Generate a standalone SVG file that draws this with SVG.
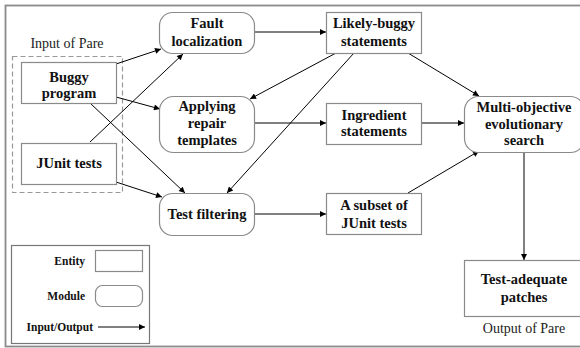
<svg xmlns="http://www.w3.org/2000/svg" width="580" height="348" viewBox="0 0 580 348">
<style>
.box{fill:#fff;stroke:#8a8a8a;stroke-width:1.2}
.t{font-family:"Liberation Serif","Times New Roman",serif;font-weight:bold;font-size:14.5px;fill:#111;text-anchor:middle}
.lt{font-family:"Liberation Serif","Times New Roman",serif;font-weight:bold;font-size:11.5px;fill:#111;text-anchor:end}
.n{font-family:"Liberation Serif","Times New Roman",serif;font-size:14px;fill:#222;text-anchor:middle}
.e{stroke:#000;stroke-width:1;fill:none;marker-end:url(#ah)}
</style>
<defs>
<marker id="ah" viewBox="0 0 10 10" refX="10" refY="5" markerWidth="8" markerHeight="6" markerUnits="userSpaceOnUse" orient="auto">
<path d="M0,0 L10,5 L0,10 z" fill="#000"/>
</marker>
</defs>
<rect x="0" y="0" width="580" height="348" fill="#fff"/>
<rect x="5.5" y="5.5" width="580" height="341" fill="none" stroke="#8a8a8a" stroke-width="1.8"/>

<g id="input-group">
<rect x="12.5" y="56.5" width="110" height="136" fill="none" stroke="#999" stroke-width="1.2" stroke-dasharray="5,3"/>
<text class="n" x="67" y="48">Input of Pare</text>
</g>

<g id="connectors">
<line class="e" x1="116" y1="64" x2="161" y2="49"/>
<line class="e" x1="90" y1="142" x2="183" y2="54"/>
<line class="e" x1="116" y1="97" x2="160" y2="109"/>
<line class="e" x1="90" y1="103" x2="185" y2="193"/>
<line class="e" x1="116" y1="182" x2="162" y2="197"/>
<line class="e" x1="254" y1="32" x2="326" y2="32"/>
<line class="e" x1="336" y1="53" x2="250" y2="99"/>
<line class="e" x1="354" y1="53" x2="227" y2="193"/>
<line class="e" x1="408" y1="53" x2="479" y2="96"/>
<line class="e" x1="254" y1="123" x2="326" y2="123"/>
<line class="e" x1="421" y1="123" x2="464" y2="123"/>
<line class="e" x1="254" y1="214" x2="326" y2="214"/>
<line class="e" x1="408" y1="193" x2="479" y2="151"/>
<line class="e" x1="524" y1="152" x2="524" y2="260"/>
</g>

<g id="buggy-program">
<rect class="box" x="21.5" y="62.5" width="95" height="41"/>
<text class="t" x="69" y="82">Buggy</text>
<text class="t" x="69" y="98">program</text>
</g>
<g id="junit-tests">
<rect class="box" x="21.5" y="143.5" width="95" height="41"/>
<text class="t" x="69" y="168">JUnit tests</text>
</g>
<g id="fault-localization">
<rect class="box" x="159.5" y="12.5" width="95" height="41" rx="13"/>
<text class="t" x="207" y="28">Fault</text>
<text class="t" x="207" y="46">localization</text>
</g>
<g id="likely-buggy">
<rect class="box" x="326.5" y="12.5" width="95" height="41"/>
<text class="t" x="374" y="28">Likely-buggy</text>
<text class="t" x="374" y="46">statements</text>
</g>
<g id="applying-templates">
<rect class="box" x="159.5" y="96.5" width="95" height="56" rx="14"/>
<text class="t" x="207" y="111">Applying</text>
<text class="t" x="207" y="128">repair</text>
<text class="t" x="207" y="145">templates</text>
</g>
<g id="ingredient">
<rect class="box" x="326.5" y="103.5" width="95" height="41"/>
<text class="t" x="374" y="120">Ingredient</text>
<text class="t" x="374" y="136">statements</text>
</g>
<g id="multi-objective">
<rect class="box" x="464.5" y="96.5" width="120" height="56" rx="14"/>
<text class="t" x="524" y="112">Multi-objective</text>
<text class="t" x="524" y="129">evolutionary</text>
<text class="t" x="524" y="145">search</text>
</g>
<g id="test-filtering">
<rect class="box" x="159.5" y="193.5" width="95" height="42" rx="13"/>
<text class="t" x="207" y="219">Test filtering</text>
</g>
<g id="subset-tests">
<rect class="box" x="326.5" y="193.5" width="95" height="41"/>
<text class="t" x="374" y="210">A subset of</text>
<text class="t" x="374" y="228">JUnit tests</text>
</g>
<g id="test-adequate">
<rect class="box" x="464.5" y="260.5" width="120" height="56"/>
<text class="t" x="524" y="284">Test-adequate</text>
<text class="t" x="524" y="302">patches</text>
<text class="n" x="524" y="333">Output of Pare</text>
</g>

<g id="legend">
<rect x="11.5" y="245.5" width="138" height="98" fill="none" stroke="#777" stroke-width="1.2"/>
<text class="lt" x="85" y="265">Entity</text>
<rect class="box" x="95.5" y="250.5" width="47" height="21"/>
<text class="lt" x="85" y="300">Module</text>
<rect class="box" x="95.5" y="285.5" width="47" height="21" rx="7"/>
<text class="lt" x="93" y="331">Input/Output</text>
<line class="e" x1="98" y1="327" x2="145" y2="327"/>
</g>
</svg>
